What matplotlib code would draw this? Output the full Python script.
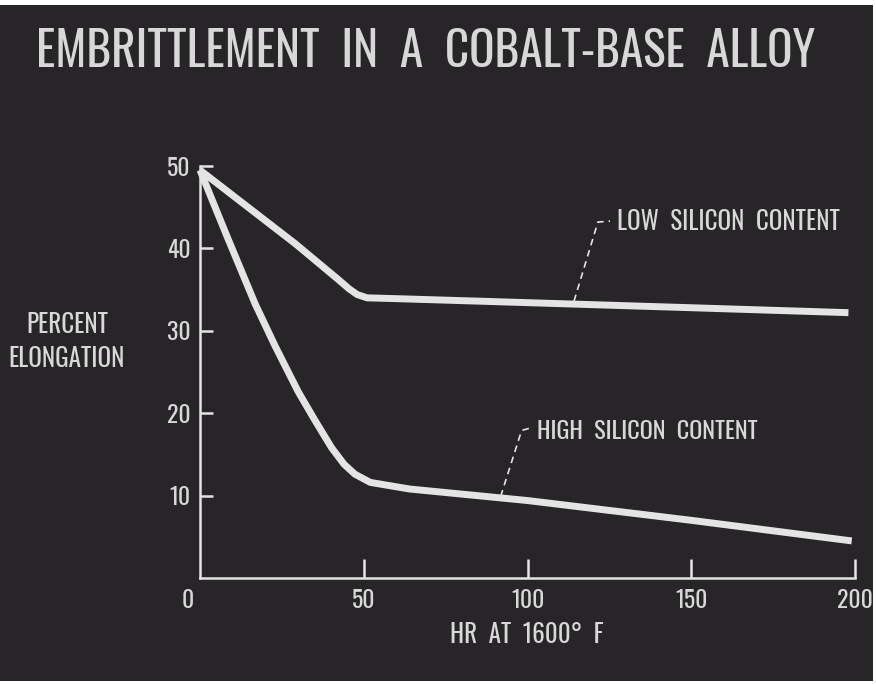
import matplotlib
matplotlib.use('Agg')
import matplotlib.pyplot as plt
import matplotlib.transforms as mtransforms
from matplotlib.patches import Rectangle

plt.rcParams['font.family'] = ['Oswald', 'Saira ExtraCondensed', 'DejaVu Sans']

# data
low_hr = [0, 29, 42, 45.5, 48, 51, 60, 85, 150, 198]
low_elong = [49.5, 40.6, 36.3, 35.1, 34.4, 34.0, 33.9, 33.6, 32.8, 32.2]
high_hr = [0, 8, 16.8, 23, 30, 35, 40.2, 44, 47.3, 52, 59.5, 64, 100, 150, 199]
high_elong = [49.5, 41.7, 33.3, 28.1, 22.6, 19.2, 15.8, 13.8, 12.6, 11.6, 11.1, 10.8, 9.4, 7.0, 4.5]

x_ticks = [0, 50, 100, 150, 200]
y_ticks = [10, 20, 30, 40, 50]

title = 'EMBRITTLEMENT  IN  A  COBALT-BASE  ALLOY'
x_label = 'HR  AT  1600°  F'
y_label = 'PERCENT\nELONGATION'
low_label = 'LOW  SILICON  CONTENT'
high_label = 'HIGH  SILICON  CONTENT'

BG = '#272527'
FG = '#e4e4e4'
TXT = '#d8d8d8'

fig = plt.figure(figsize=(8.76, 6.85), dpi=100, facecolor='white')
fig.patches.append(Rectangle((0, 4 / 685), 873 / 876, 676 / 685,
                             transform=fig.transFigure, facecolor=BG,
                             edgecolor='none', zorder=-5))

ax = fig.add_axes([200 / 876, 1 - 578 / 685, 655 / 876, 412 / 685])
ax.set_facecolor('none')

ax.plot(low_hr, low_elong, color=FG, lw=5, solid_capstyle='butt',
        solid_joinstyle='round', clip_on=False)
ax.plot(high_hr, high_elong, color=FG, lw=5, solid_capstyle='butt',
        solid_joinstyle='round', clip_on=False)

ax.set_xlim(0, 200)
ax.set_ylim(0, 50)

for s in ['top', 'right']:
    ax.spines[s].set_visible(False)
for s in ['left', 'bottom']:
    ax.spines[s].set_color(FG)
    ax.spines[s].set_linewidth(1.8)

ax.set_xticks(x_ticks)
ax.set_xticklabels([str(v) for v in x_ticks])
ax.set_yticks(y_ticks)
ax.set_yticklabels([str(v) for v in y_ticks])
ax.tick_params(axis='x', direction='in', length=14, width=1.8, color=FG,
               labelcolor=TXT, labelsize=17, pad=8)
ax.tick_params(axis='y', direction='in', length=9.5, width=1.8, color=FG,
               labelcolor=TXT, labelsize=17, pad=7)

# origin label sits a little left of the axis, no tick mark
ax.xaxis.get_major_ticks()[0].tick1line.set_visible(False)
lab0 = ax.get_xticklabels()[0]
lab0.set_transform(lab0.get_transform() +
                   mtransforms.ScaledTranslation(-12 / 100, 0, fig.dpi_scale_trans))

fig.text(527 / 876, 1 - 635 / 685, x_label, ha='center', va='center',
         color=TXT, fontsize=18)
fig.text(67 / 876, 1 - 342 / 685, y_label, ha='center', va='center',
         color=TXT, fontsize=18, linespacing=1.4,
         multialignment='center')

fig.text(426 / 876, 1 - 52 / 685, title, ha='center', va='center',
         color=TXT, fontsize=34)

# leader lines
ax.plot([114.2, 121.5, 125.2], [33.6, 43.2, 43.3], color=FG, lw=1.2,
        dashes=(4, 3), clip_on=False)
ax.plot([91.8, 98.2, 100.8], [9.9, 17.9, 18.2], color=FG, lw=1.2,
        dashes=(4, 3), clip_on=False)
ax.text(127.3, 43.2, low_label, ha='left', va='center', color=TXT,
        fontsize=18)
ax.text(102.8, 17.8, high_label, ha='left', va='center', color=TXT,
        fontsize=17.5)

fig.savefig('out.png', dpi=100, facecolor='white')
